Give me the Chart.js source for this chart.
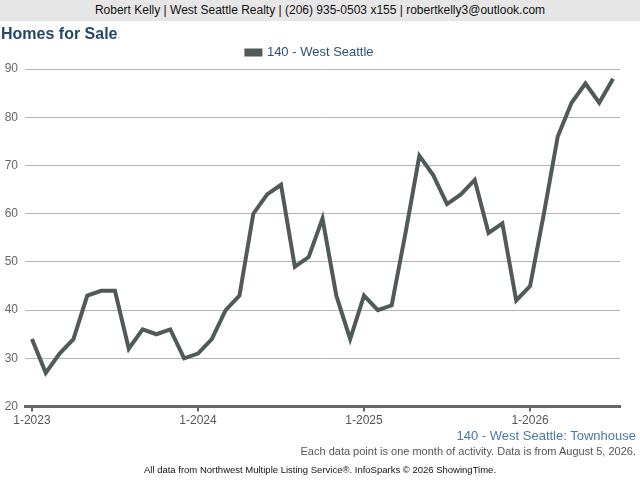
<!DOCTYPE html>
<html>
<head>
<meta charset="utf-8">
<script src="https://cdn.jsdelivr.net/npm/chart.js@4.4.1/dist/chart.umd.min.js"></script>
<style>
  html, body { margin: 0; padding: 0; background: #fff; }
  body { width: 640px; height: 480px; position: relative; overflow: hidden; font-family: "Liberation Sans", Arial, sans-serif; }
  #chart { position: absolute; left: 0; top: 0; width: 640px; height: 480px; }
  .txt { position: absolute; white-space: nowrap; }
  #header { left: 0; top: 0; width: 640px; height: 21px; background: #e6e6e6; text-align: center; font-size: 12px; line-height: 21px; color: #111; }
  #title { left: 1px; top: 25px; font-size: 16px; font-weight: bold; color: #24476b; }
  #subtitle { right: 4px; top: 428px; font-size: 13px; color: #4a78ab; }
  #note { right: 4px; top: 445px; font-size: 11px; color: #555; }
  #source { left: 0; width: 640px; text-align: center; top: 464px; font-size: 9.5px; color: #111; }
</style>
</head>
<body>
<canvas id="chart" width="640" height="480"></canvas>
<div class="txt" id="header">Robert Kelly | West Seattle Realty | (206) 935-0503 x155 | robertkelly3@outlook.com</div>
<div class="txt" id="title">Homes for Sale</div>
<div class="txt" id="subtitle">140 - West Seattle: Townhouse</div>
<div class="txt" id="note">Each data point is one month of activity. Data is from August 5, 2026.</div>
<div class="txt" id="source">All data from Northwest Multiple Listing Service®. InfoSparks © 2026 ShowingTime.</div>
<script>
// monthly labels, Jan 2023 .. Jul 2026
const months = [
  '1-2023', '2-2023', '3-2023', '4-2023', '5-2023', '6-2023', '7-2023', '8-2023', '9-2023', '10-2023', '11-2023', '12-2023',
  '1-2024', '2-2024', '3-2024', '4-2024', '5-2024', '6-2024', '7-2024', '8-2024', '9-2024', '10-2024', '11-2024', '12-2024',
  '1-2025', '2-2025', '3-2025', '4-2025', '5-2025', '6-2025', '7-2025', '8-2025', '9-2025', '10-2025', '11-2025', '12-2025',
  '1-2026', '2-2026', '3-2026', '4-2026', '5-2026', '6-2026', '7-2026'
];
const homesForSale = [
  34, 27, 31, 34, 43, 44, 44, 32, 36, 35, 36, 30,
  31, 34, 40, 43, 60, 64, 66, 49, 51, 59, 43, 34,
  43, 40, 41, 56, 72, 68, 62, 64, 67, 56, 58, 42,
  45, 60, 76, 83, 87, 83, 88
];
const seriesName = '140 - West Seattle';
const yTicks = [20, 30, 40, 50, 60, 70, 80, 90];

const lineColor = '#505a58';

new Chart(document.getElementById('chart'), {
  type: 'line',
  data: {
    labels: months,
    datasets: [{
      label: seriesName,
      data: homesForSale,
      borderColor: lineColor,
      backgroundColor: lineColor,
      borderWidth: 4,
      pointRadius: 0,
      tension: 0,
      borderJoinStyle: 'miter'
    }]
  },
  options: {
    responsive: false,
    animation: false,
    layout: { padding: { top: 42, right: 20, bottom: 50, left: 0 } },
    plugins: {
      tooltip: { enabled: false },
      legend: {
        position: 'top',
        labels: {
          boxWidth: 14,
          boxHeight: 4,
          padding: 4,
          color: '#2d5078',
          font: { family: 'Liberation Sans', size: 13 }
        }
      }
    },
    scales: {
      x: {
        offset: true,
        grid: { drawOnChartArea: false, drawTicks: true, tickLength: 5, color: '#666', lineWidth: 2, offset: false },
        border: { display: true, color: '#666', width: 3 },
        ticks: {
          autoSkip: false,
          maxRotation: 0,
          padding: 2,
          color: '#555',
          font: { family: 'Liberation Sans', size: 12 },
          callback: (v, i) => (i % 12 === 0 ? months[i] : null)
        }
      },
      y: {
        min: yTicks[0],
        max: yTicks[yTicks.length - 1],
        afterBuildTicks: (axis) => { axis.ticks = yTicks.map(v => ({ value: v })); },
        afterFit: (axis) => { axis.width = 25; },
        grid: { color: '#b4b4b4', lineWidth: 1, drawTicks: false },
        border: { display: false },
        ticks: {
          padding: 7,
          color: '#666',
          font: { family: 'Liberation Sans', size: 12 }
        }
      }
    }
  }
});
</script>
</body>
</html>
